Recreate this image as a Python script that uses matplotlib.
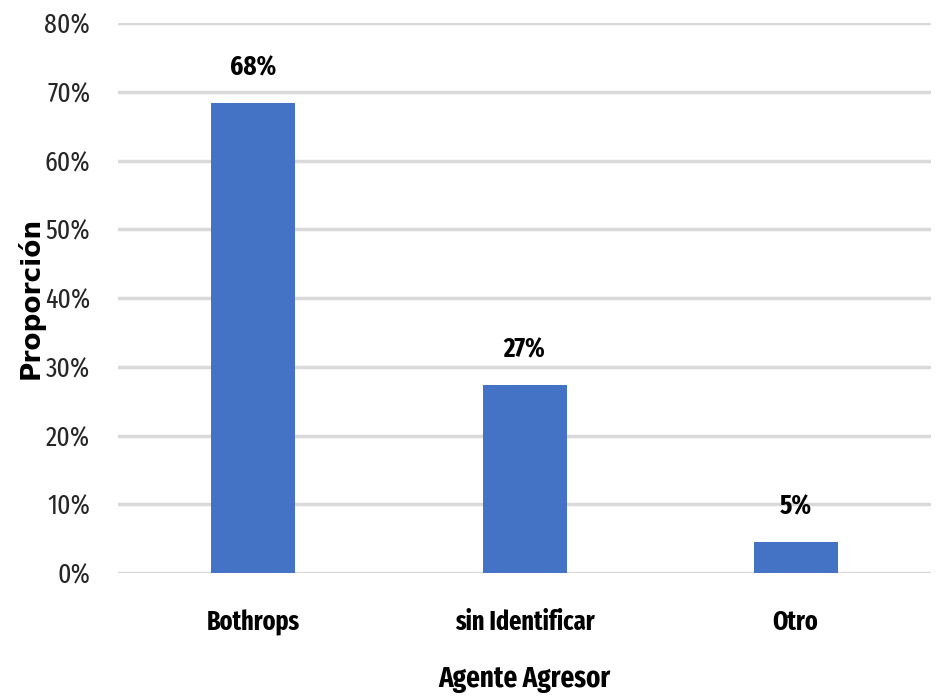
import matplotlib.pyplot as plt
from matplotlib.ticker import PercentFormatter

categorias = ['Bothrops', 'sin Identificar', 'Otro']
proporcion = [0.684, 0.274, 0.045]
etiquetas = ['68%', '27%', '5%']

fuente = ['Fira Sans Extra Condensed', 'Roboto Condensed', 'DejaVu Sans']
plt.rcParams['font.family'] = fuente

fig = plt.figure(figsize=(9.4, 6.98), dpi=100)
ax = fig.add_axes([0.1255, 0.179, 0.865, 0.788])

bars = ax.bar(categorias, proporcion, width=0.31, color='#4472C4', zorder=3)
for b, t in zip(bars, etiquetas):
    ax.text(b.get_x() + b.get_width() / 2, b.get_height() + 0.032, t,
            ha='center', va='bottom', fontsize=19.5, fontweight='bold')

ax.set_ylim(0, 0.8)
ax.set_xlim(-0.5, 2.5)
ax.set_yticks([i / 10 for i in range(9)])
ax.yaxis.set_major_formatter(PercentFormatter(1.0, decimals=0))
ax.grid(axis='y', color='#d9d9d9', linewidth=2.5, zorder=0)
for s in ax.spines.values():
    s.set_visible(False)
ax.tick_params(axis='both', length=0, labelsize=20, colors='#262626')
ax.tick_params(axis='y', pad=20)
ax.tick_params(axis='x', pad=26)
for lbl in ax.get_xticklabels():
    lbl.set_fontweight('bold')
    lbl.set_fontsize(19)
    lbl.set_color('black')

ax.set_xlabel('Agente Agresor', fontsize=21, fontweight='bold', labelpad=21)
ax.set_ylabel('Proporción', fontsize=19, fontweight='bold', family='DejaVu Sans')
ax.yaxis.set_label_coords(-0.09, 0.5)

fig.savefig('out.png', dpi=100)
